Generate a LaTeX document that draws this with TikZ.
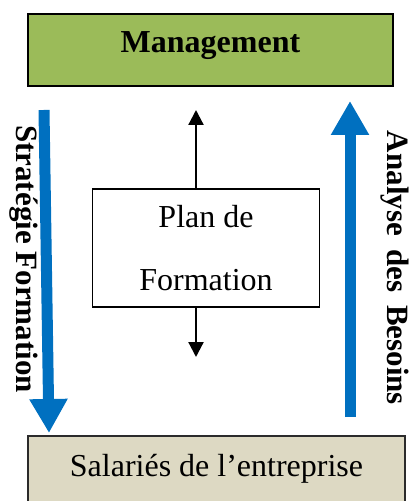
\documentclass[tikz,border=0pt]{standalone}
\usepackage{fontspec}
\setmainfont{Liberation Serif}
\usetikzlibrary{arrows.meta, positioning}
\definecolor{mgmtgreen}{HTML}{9BBB59}
\definecolor{staffsand}{HTML}{DDD9C3}
\definecolor{flowblue}{HTML}{0070C0}
\definecolor{edge}{HTML}{2B2B2B}
\tikzset{
  font=\fontsize{16}{19}\selectfont,
  %
  box/.style={draw=black, line width=1pt, align=center, inner sep=0pt},
  boxm/.style={box, fill=mgmtgreen, font=\fontsize{16}{19}\selectfont\bfseries},
  boxs/.style={box, draw=edge, fill=staffsand},
  boxp/.style={box, line width=0.75pt, fill=white},
  %
  bigflow/.style={draw=flowblue, line width=5.5pt,
                  -{Triangle[length=17pt, width=18pt]}},
  flow/.style={draw=black, line width=1.1pt,
               -{Triangle[length=7.5pt, width=7.5pt]}},
  %
  side/.style={font=\fontsize{15.5}{18}\selectfont\bfseries, rotate=-90,
               inner sep=0pt},
}
\begin{document}
\begin{tikzpicture}[x=0.5pt, y=-0.5pt]
  \useasboundingbox (0,0) rectangle (410,501);
  \clip (0,0) rectangle (410,501);

  \node[boxm, minimum width=182.5pt, minimum height=36pt,
        text height=19.5pt, text depth=16.5pt] (mgmt) at (210.5,50)
    {Management};
  \node[boxp, minimum width=113.5pt, minimum height=59pt] (plan) at (206,248)
    {Plan de\\[12.5pt]Formation};
  % lower box runs past the page edge
  \node[boxs, anchor=north, minimum width=188.5pt,
        text height=20pt, text depth=20pt] (staff) at (216.5,435)
    {Salariés de l’entreprise};

  % loose ends of the plan arrows, a little left of the box centre
  \coordinate (up)   at (196,110);
  \coordinate (down) at (196,357);
  \draw[flow] (up |- plan.north) -- (up);
  \draw[flow] (down |- plan.south) -- (down);

  % the two big flows between management and staff
  \draw[bigflow] ([xshift=8.5pt, yshift=-11.5pt]mgmt.south west)
    -- ([xshift=11pt, yshift=1pt]staff.north west);
  \draw[bigflow] ([xshift=-28pt, yshift=9pt]staff.north east)
    -- ([xshift=-22pt, yshift=-7pt]mgmt.south east);

  \node[side] (strat) at (24,259) {Stratégie Formation};
  \node[side] (needs) at (395,268)
    {Analyse\hspace{0.42em}des\hspace{0.42em}Besoins};
\end{tikzpicture}
\end{document}
